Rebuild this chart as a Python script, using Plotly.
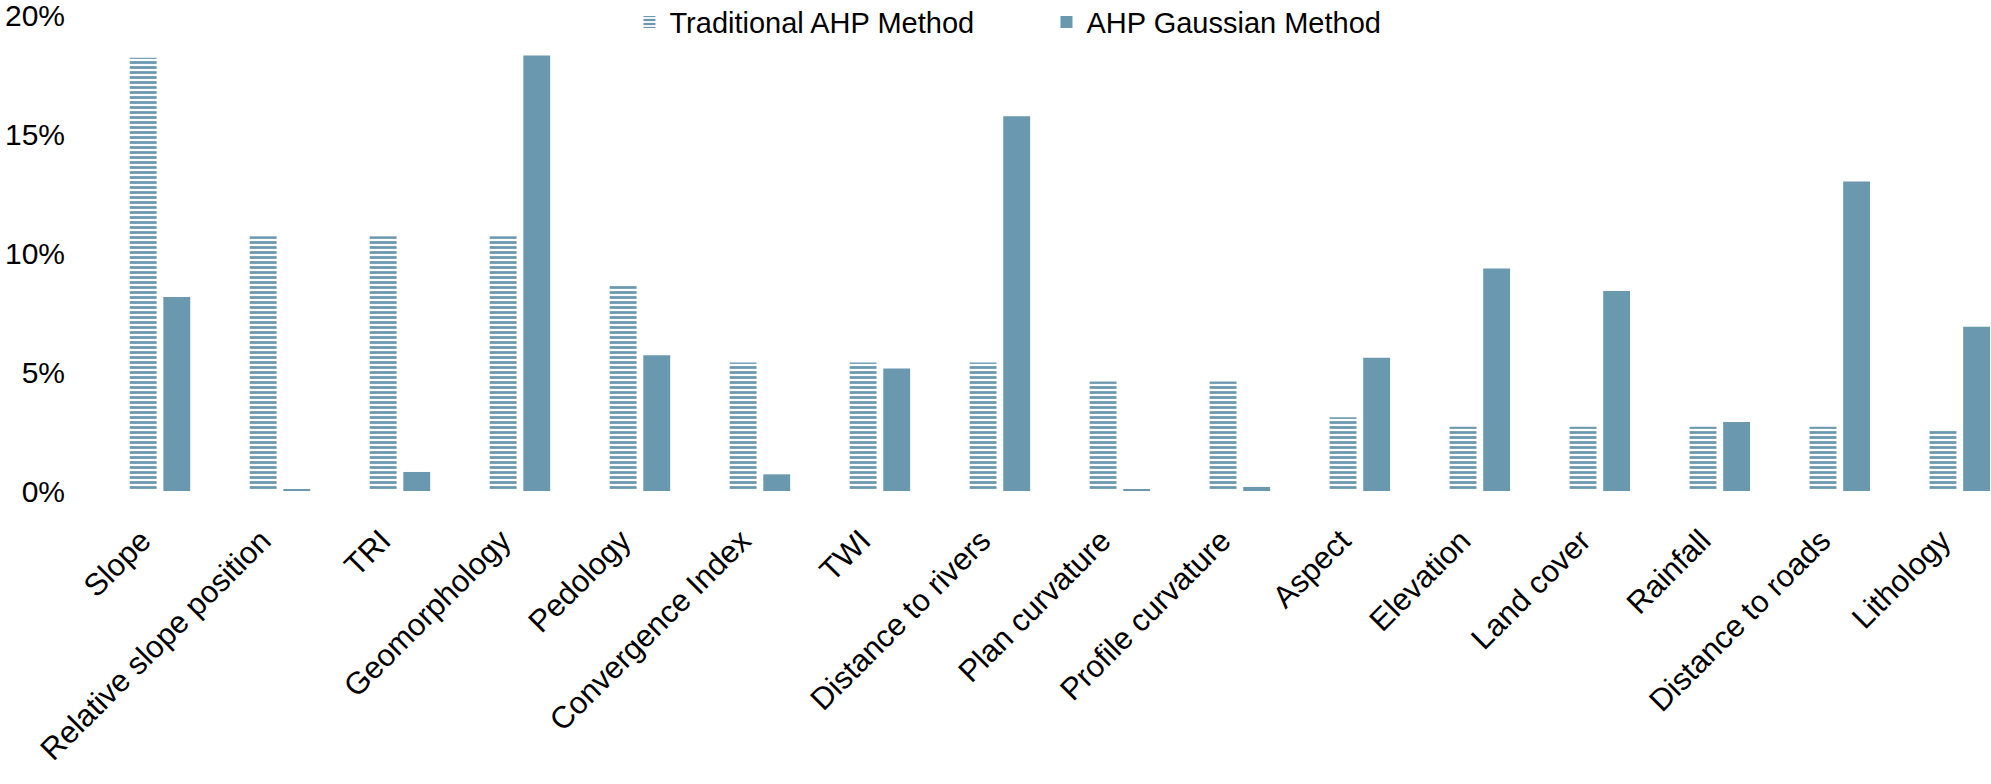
import plotly.graph_objects as go

categories = ["Slope", "Relative slope position", "TRI", "Geomorphology", "Pedology",
              "Convergence Index", "TWI", "Distance to rivers", "Plan curvature",
              "Profile curvature", "Aspect", "Elevation", "Land cover", "Rainfall",
              "Distance to roads", "Lithology"]
traditional = [0.182, 0.107, 0.107, 0.107, 0.087, 0.054, 0.054, 0.054, 0.046,
               0.046, 0.031, 0.027, 0.027, 0.027, 0.027, 0.026]
gaussian = [0.0815, 0.0005, 0.008, 0.183, 0.057, 0.007, 0.0515, 0.1575, 0.0005,
            0.0017, 0.056, 0.0935, 0.084, 0.029, 0.130, 0.069]
y_ticks = [0, 0.05, 0.10, 0.15, 0.20]
y_tick_labels = ["0%", "5%", "10%", "15%", "20%"]

COLOR = "#6A98AF"
FONT = "Liberation Sans, Arial, sans-serif"
PAD = "\u00a0\u00a0\u00a0"

fig = go.Figure()
fig.add_trace(go.Bar(
    name="Traditional AHP Method", x=categories, y=traditional,
    marker=dict(color="white", line=dict(width=0),
                pattern=dict(shape="-", fgcolor=COLOR, bgcolor="white",
                             size=5, solidity=0.55, fillmode="replace")),
))
fig.add_trace(go.Bar(
    name="AHP Gaussian Method", x=categories, y=gaussian,
    marker=dict(color=COLOR, line=dict(width=0)),
))

fig.update_layout(
    width=1991, height=784,
    margin=dict(l=100, r=0, t=15, b=293, autoexpand=False),
    paper_bgcolor="white", plot_bgcolor="white",
    barmode="group", bargap=0.44, bargroupgap=0.2,
    font=dict(family=FONT, size=28, color="black"),
    showlegend=True,
    legend=dict(orientation="h", x=0.280, xanchor="left", y=0.985, yanchor="middle",
                font=dict(family=FONT, size=29, color="black"),
                bgcolor="rgba(0,0,0,0)", itemwidth=30, entrywidth=372),
)
fig.update_xaxes(
    range=[-0.5, 15.26], tickangle=-45, showgrid=False, showline=False,
    zeroline=False, ticks="", ticklabelstandoff=6, automargin=False,
    tickvals=categories, ticktext=[c + PAD for c in categories],
    tickfont=dict(family=FONT, size=31, color="black"),
)
fig.update_yaxes(
    range=[0, 0.20], tickvals=y_ticks, ticktext=y_tick_labels,
    showgrid=False, showline=False, zeroline=False, ticks="",
    ticklabelstandoff=34, automargin=False, ticklabeloverflow="allow",
    tickfont=dict(family=FONT, size=30, color="black"),
)

fig.write_html("out.html", config={"displayModeBar": False},
               post_script="document.body.style.margin='0';document.body.style.overflow='hidden';")
